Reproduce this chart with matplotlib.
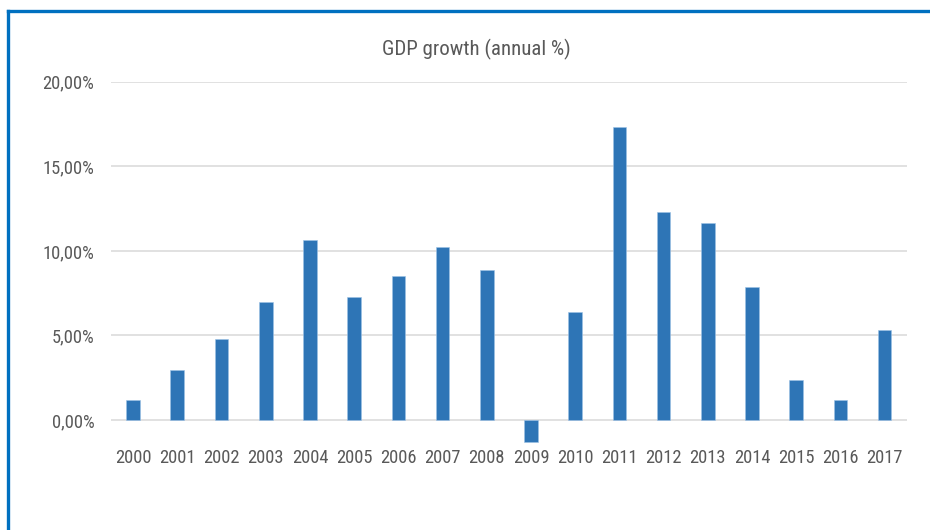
import matplotlib

matplotlib.use("Agg")
import matplotlib.pyplot as plt
from matplotlib.lines import Line2D
from matplotlib import font_manager

years = [str(y) for y in range(2000, 2018)]
gdp_growth = [1.18, 2.95, 4.77, 6.99, 10.63, 7.25, 8.52, 10.22, 8.86, -1.28,
              6.38, 17.33, 12.30, 11.63, 7.84, 2.36, 1.16, 5.30]
y_ticks = [0, 5, 10, 15, 20]
y_labels = ["0,00%", "5,00%", "10,00%", "15,00%", "20,00%"]
title = "GDP growth (annual %)"


def find_narrow_font():
    # the original uses a condensed sans; take one if the system has it
    prefs = ["liberation sans narrow", "roboto condensed", "noto sans condensed",
             "open sans condensed", "dejavu sans condensed"]
    found = {}
    for f in font_manager.fontManager.ttflist:
        key = f.name.lower()
        fn = f.fname.lower()
        if f.style != "normal" or f.weight not in (400, "normal", "regular", "book"):
            continue
        if "bold" in fn or "italic" in fn or "light" in fn or "semi" in fn or "extra" in fn:
            continue
        if "condensed" in fn or "narrow" in fn or "condensed" in key or "narrow" in key:
            base = key if ("condensed" in key or "narrow" in key) else key + " condensed"
            found.setdefault(base, f.fname)
    for p in prefs:
        if p in found:
            return found[p]
    return next(iter(found.values()), None)


narrow = find_narrow_font()
if narrow:
    fp = font_manager.FontProperties(fname=narrow)
    tick_size, title_size = 13.3, 15
else:
    fp = font_manager.FontProperties(family=["Liberation Sans", "DejaVu Sans"])
    tick_size, title_size = 12, 13

TEXT = "#595959"
BAR = "#2E75B6"
GRID = "#D9D9D9"
FRAME = "#0070C0"

fig = plt.figure(figsize=(9.3, 5.3), dpi=100)
ax = fig.add_axes([0.1194, 0.1596, 0.8556, 0.6862])

x = range(len(years))
ax.bar(x, gdp_growth, width=0.31, color=BAR, edgecolor="#9DC3E6", linewidth=0.4, zorder=3)
ax.set_xlim(-0.5, len(years) - 0.5)
ax.set_ylim(-1.5, 20)

for t in y_ticks:
    ax.axhline(t, color=GRID, lw=1.1, zorder=1)

ax.set_yticks(y_ticks)
ax.set_yticklabels(y_labels, fontproperties=fp, fontsize=tick_size)
ax.set_xticks(list(x))
ax.set_xticklabels(years, fontproperties=fp, fontsize=tick_size)
ax.tick_params(axis="both", length=0, labelcolor=TEXT)
ax.tick_params(axis="y", pad=12)
ax.tick_params(axis="x", pad=2.5)
for s in ax.spines.values():
    s.set_visible(False)

fig.text(0.5125, 1 - 49.5 / 530, title, ha="center", va="center",
         fontproperties=fp, fontsize=title_size, color=TEXT)

# blue frame on top and left edge
fig.add_artist(Line2D([7.5 / 930, 7.5 / 930], [0, 1 - 11 / 530], transform=fig.transFigure,
                      color=FRAME, lw=2.4, solid_capstyle="projecting"))
fig.add_artist(Line2D([7.5 / 930, 1], [1 - 11 / 530, 1 - 11 / 530], transform=fig.transFigure,
                      color=FRAME, lw=2.4, solid_capstyle="projecting"))

fig.savefig("out.png", dpi=100)
